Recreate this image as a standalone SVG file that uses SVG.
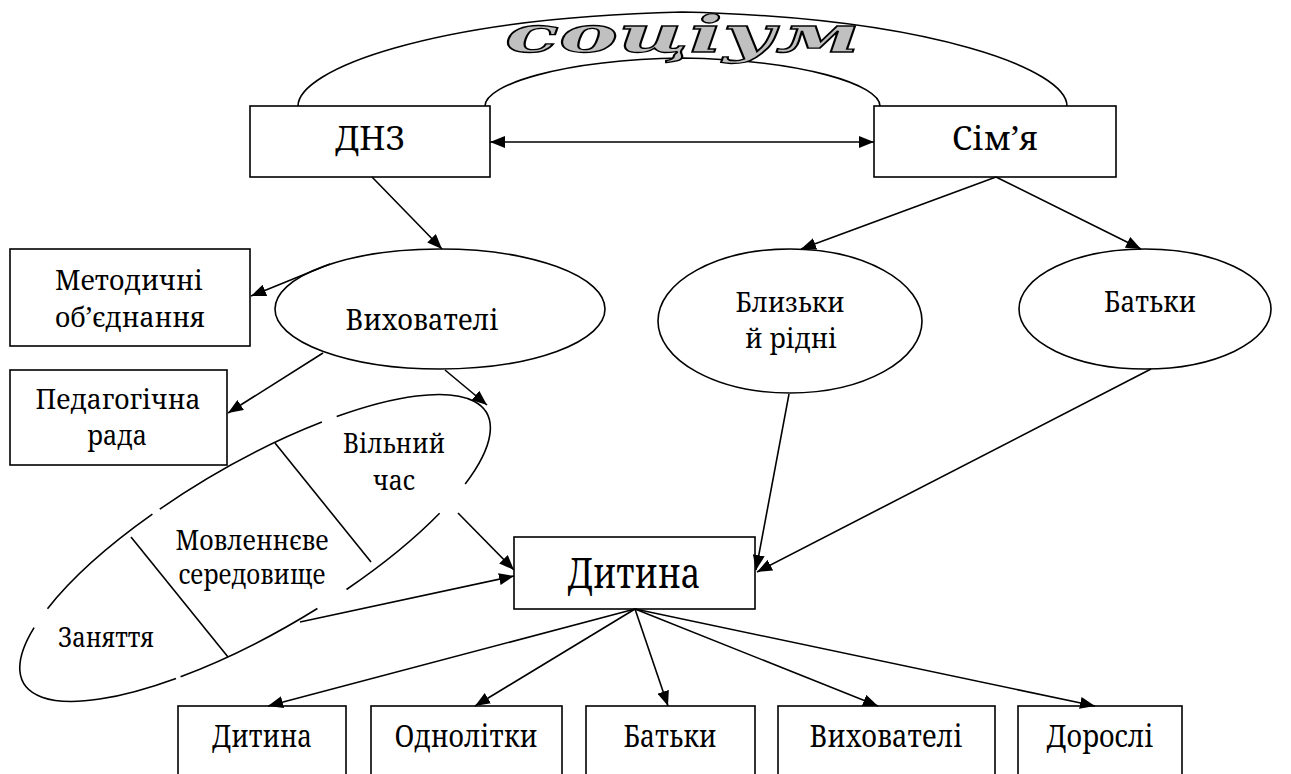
<svg xmlns="http://www.w3.org/2000/svg" width="1291" height="774" viewBox="0 0 1291 774">
<defs>
<marker id="ah" markerUnits="userSpaceOnUse" markerWidth="16" markerHeight="12" refX="15" refY="6" orient="auto-start-reverse">
<path d="M0,0 L15,6 L0,12 z" fill="#000"/>
</marker>
<style>
.box{fill:#fff;stroke:#000;stroke-width:1.6}
.ell{fill:#fff;stroke:#000;stroke-width:1.6}
.ln{fill:none;stroke:#000;stroke-width:1.6}
.arr{fill:none;stroke:#000;stroke-width:1.6;marker-end:url(#ah)}
.t{font-family:"Noto Serif","DejaVu Serif",serif;fill:#000;text-anchor:middle}
.s30{font-size:30px}
.s29{font-size:29px}
.s28{font-size:28px}
.s27{font-size:27px}
</style>
</defs>
<rect width="1291" height="774" fill="#fff"/>

<g id="socium">
<path class="ln" d="M298,106 C298,70 430,18 682,12 C934,18 1067,70 1067,106"/>
<path class="ln" d="M485,106 C485,85 560,60 682,58 C804,60 880,85 880,106"/>
<text x="505" y="52" font-family="DejaVu Serif" font-style="italic" font-weight="bold" font-size="50" textLength="355" lengthAdjust="spacingAndGlyphs" fill="#c0c0c0" stroke="#000" stroke-width="1.3">соціум</text>
</g>

<g id="dnz">
<rect class="box" x="250" y="106" width="240" height="71"/>
<text class="t" x="370" y="150" font-size="33" textLength="70" lengthAdjust="spacingAndGlyphs">ДНЗ</text>
</g>

<g id="simya">
<rect class="box" x="874" y="106" width="242" height="71"/>
<text class="t" x="995" y="150" font-size="33" textLength="86" lengthAdjust="spacingAndGlyphs">Сім’я</text>
</g>

<g id="metodychni">
<rect class="box" x="10" y="249" width="240" height="97"/>
<text class="t s28" x="129" y="290" textLength="148" lengthAdjust="spacingAndGlyphs">Методичні</text>
<text class="t s28" x="130" y="327" textLength="150" lengthAdjust="spacingAndGlyphs">об’єднання</text>
</g>

<g id="pedrada">
<rect class="box" x="10" y="370" width="217" height="95"/>
<text class="t s27" x="118" y="409" textLength="165" lengthAdjust="spacingAndGlyphs">Педагогічна</text>
<text class="t s27" x="117" y="445" textLength="60" lengthAdjust="spacingAndGlyphs">рада</text>
</g>

<g id="vykhovateli">
<ellipse class="ell" cx="440" cy="309" rx="165" ry="60"/>
<text class="t s29" x="422" y="330" textLength="153" lengthAdjust="spacingAndGlyphs">Вихователі</text>
</g>

<g id="blyzky">
<ellipse class="ell" cx="790" cy="321" rx="132" ry="72"/>
<text class="t s28" x="790" y="312" textLength="109" lengthAdjust="spacingAndGlyphs">Близьки</text>
<text class="t s28" x="791" y="348" textLength="92" lengthAdjust="spacingAndGlyphs">й рідні</text>
</g>

<g id="batky-top">
<ellipse class="ell" cx="1145" cy="309" rx="126" ry="60"/>
<text class="t s29" x="1150" y="312" textLength="92" lengthAdjust="spacingAndGlyphs">Батьки</text>
</g>

<g id="seredovyshche">
<path class="ln" d="M336.7,416.6 A268,84 -30.3 0 1 465.2,483.9 M439.6,513.3 A268,84 -30.3 0 1 346.5,589.5 M317.4,608.5 A268,84 -30.3 0 1 180.6,676.7 M176,678.4 A268,84 -30.3 0 1 34.1,627.7 M47.5,608.7 A268,84 -30.3 0 1 152.4,514.2 M159.8,509.1 A268,84 -30.3 0 1 321.9,422.1"/>
<line class="ln" x1="275" y1="443" x2="371" y2="562"/>
<line class="ln" x1="131" y1="537" x2="228" y2="657"/>
<text class="t s27" x="394" y="453" textLength="102" lengthAdjust="spacingAndGlyphs">Вільний</text>
<text class="t s27" x="394" y="490" textLength="42" lengthAdjust="spacingAndGlyphs">час</text>
<text class="t s27" x="252" y="550" textLength="153" lengthAdjust="spacingAndGlyphs">Мовленнєве</text>
<text class="t s27" x="252" y="584" textLength="147" lengthAdjust="spacingAndGlyphs">середовище</text>
<text class="t s27" x="106" y="647" textLength="96" lengthAdjust="spacingAndGlyphs">Заняття</text>
</g>

<g id="dytyna-center">
<rect class="box" x="514" y="537" width="241" height="72"/>
<text class="t" x="634" y="588" font-size="42" textLength="133" lengthAdjust="spacingAndGlyphs">Дитина</text>
</g>

<g id="b-dytyna">
<rect class="box" x="178" y="706" width="168" height="90"/>
<text class="t s30" x="262" y="747" textLength="100" lengthAdjust="spacingAndGlyphs">Дитина</text>
</g>
<g id="b-odnolitky">
<rect class="box" x="371" y="706" width="191" height="90"/>
<text class="t s30" x="466" y="747" textLength="143" lengthAdjust="spacingAndGlyphs">Однолітки</text>
</g>
<g id="b-batky">
<rect class="box" x="586" y="706" width="169" height="90"/>
<text class="t s30" x="670" y="747" textLength="93" lengthAdjust="spacingAndGlyphs">Батьки</text>
</g>
<g id="b-vykhovateli">
<rect class="box" x="778" y="706" width="217" height="90"/>
<text class="t s30" x="886" y="747" textLength="153" lengthAdjust="spacingAndGlyphs">Вихователі</text>
</g>
<g id="b-dorosli">
<rect class="box" x="1018" y="706" width="164" height="90"/>
<text class="t s30" x="1100" y="747" textLength="107" lengthAdjust="spacingAndGlyphs">Дорослі</text>
</g>

<g id="connectors">
<line class="arr" x1="490" y1="142" x2="874" y2="142" marker-start="url(#ah)"/>
<line class="arr" x1="372" y1="177" x2="442" y2="249"/>
<line class="arr" x1="330" y1="264" x2="251" y2="296"/>
<line class="arr" x1="323" y1="353" x2="228" y2="413"/>
<line class="arr" x1="445" y1="370" x2="487" y2="405"/>
<line class="arr" x1="458" y1="513" x2="514" y2="570"/>
<line class="arr" x1="300" y1="622" x2="514" y2="576"/>
<line class="arr" x1="996" y1="177" x2="801" y2="249"/>
<line class="arr" x1="996" y1="177" x2="1141" y2="249"/>
<line class="arr" x1="789" y1="394" x2="756" y2="570"/>
<line class="arr" x1="1151" y1="369" x2="757" y2="572"/>
<line class="arr" x1="635" y1="609" x2="268" y2="706"/>
<line class="arr" x1="635" y1="609" x2="475" y2="706"/>
<line class="arr" x1="635" y1="609" x2="668" y2="706"/>
<line class="arr" x1="635" y1="609" x2="878" y2="706"/>
<line class="arr" x1="635" y1="609" x2="1095" y2="706"/>
</g>
</svg>
